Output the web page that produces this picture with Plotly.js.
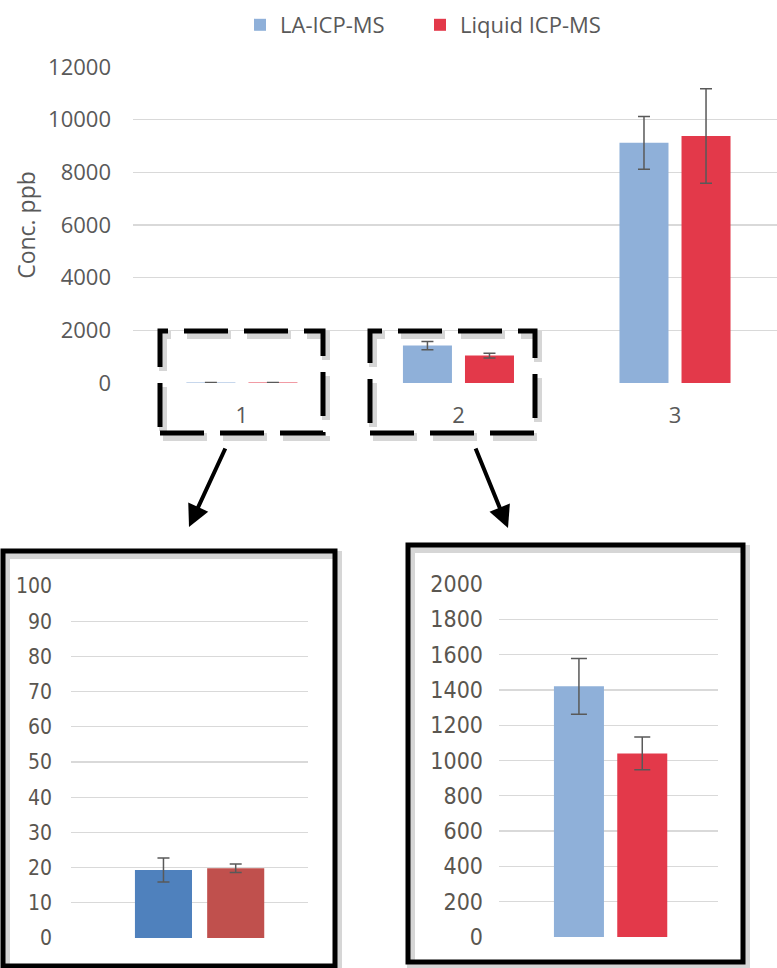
<!DOCTYPE html>
<html>
<head>
<meta charset="utf-8">
<script src="https://cdn.plot.ly/plotly-3.0.1.min.js"></script>
<style>
html,body{margin:0;padding:0;background:#fff;}
#chart{width:777px;height:968px;}
</style>
</head>
<body>
<div id="chart"></div>
<script>
// ---- data ----
const categories = ["1", "2", "3"];
const seriesNames = ["LA-ICP-MS", "Liquid ICP-MS"];
const laValues = [19.3, 1420, 9120];
const laErrors = [3.4, 158, 1000];
const liquidValues = [19.8, 1040, 9380];
const liquidErrors = [1.2, 93, 1790];
const mainTicks = [0, 2000, 4000, 6000, 8000, 10000, 12000];
const inset1Ticks = [0, 10, 20, 30, 40, 50, 60, 70, 80, 90, 100];
const inset2Ticks = [0, 200, 400, 600, 800, 1000, 1200, 1400, 1600, 1800, 2000];
const yTitle = "Conc. ppb";

// ---- styling ----
const W = 777, H = 968;
const px = x => x / W;
const py = y => 1 - y / H;
const BLUE = "#8FB0D9", RED = "#E3394A";
const BLUE_DARK = "#4F81BD", RED_DARK = "#C0504D";
const TXT = "#595959";
const GRID = "#D9D9D9";
const mainFont = "Open Sans, DejaVu Sans, sans-serif";
const narrowFont = "Liberation Sans Narrow, DejaVu Sans Condensed, Arial Narrow, sans-serif";

function eb(arr, w) {
  return {type: "data", array: arr, visible: true, color: TXT, thickness: 1.5, width: w};
}

const traces = [
  {type: "bar", name: seriesNames[0], x: categories, y: laValues, marker: {color: BLUE},
   error_y: eb(laErrors, 6), xaxis: "x", yaxis: "y", legend: "legend"},
  {type: "bar", name: seriesNames[1], x: categories, y: liquidValues, marker: {color: RED},
   error_y: eb(liquidErrors, 6), xaxis: "x", yaxis: "y", legend: "legend2"},
  // inset for category 1
  {type: "bar", name: seriesNames[0], x: [categories[0]], y: [laValues[0]], marker: {color: BLUE_DARK},
   error_y: eb([laErrors[0]], 6), xaxis: "x2", yaxis: "y2", showlegend: false},
  {type: "bar", name: seriesNames[1], x: [categories[0]], y: [liquidValues[0]], marker: {color: RED_DARK},
   error_y: eb([liquidErrors[0]], 6), xaxis: "x2", yaxis: "y2", showlegend: false},
  // inset for category 2
  {type: "bar", name: seriesNames[0], x: [categories[1]], y: [laValues[1]], marker: {color: BLUE},
   error_y: eb([laErrors[1]], 8), xaxis: "x3", yaxis: "y3", showlegend: false},
  {type: "bar", name: seriesNames[1], x: [categories[1]], y: [liquidValues[1]], marker: {color: RED},
   error_y: eb([liquidErrors[1]], 8), xaxis: "x3", yaxis: "y3", showlegend: false}
];

const shapes = [];
function rect(x0, y0, x1, y1, width, dash) {
  // shadow
  shapes.push({type: "rect", xref: "paper", yref: "paper",
    x0: px(x0 + 3), x1: px(x1 + 3), y0: py(y1 + 4), y1: py(y0 + 4),
    line: {color: "rgba(0,0,0,0.16)", width: width + 3, dash: dash || "solid"}, layer: "above"});
  shapes.push({type: "rect", xref: "paper", yref: "paper",
    x0: px(x0), x1: px(x1), y0: py(y1), y1: py(y0),
    line: {color: "#000", width: width, dash: dash || "solid"}, layer: "above"});
}
rect(160, 331, 323, 433, 5, "44px,16px");
rect(370, 331, 535, 433, 5, "44px,16px");
rect(3, 551, 335, 966, 5);
rect(408, 545, 743, 962, 5);

const annotations = [
  {xref: "paper", yref: "paper", x: px(189), y: py(527), ax: 37, ay: -80,
   showarrow: true, arrowhead: 2, arrowsize: 1.1, arrowwidth: 4, arrowcolor: "#000", text: ""},
  {xref: "paper", yref: "paper", x: px(508), y: py(528), ax: -33, ay: -81,
   showarrow: true, arrowhead: 2, arrowsize: 1.1, arrowwidth: 4, arrowcolor: "#000", text: ""}
];

const legendBase = {orientation: "h", y: py(4), xanchor: "left", yanchor: "top", itemwidth: 30,
  font: {family: mainFont, size: 22, color: TXT}, itemclick: false, bgcolor: "rgba(0,0,0,0)"};

const layout = {
  width: W, height: H,
  margin: {l: 0, r: 0, t: 0, b: 0},
  paper_bgcolor: "#fff", plot_bgcolor: "rgba(0,0,0,0)",
  barmode: "group", bargap: 0.427, bargroupgap: 0.21,
  showlegend: true,
  legend: Object.assign({}, legendBase, {x: px(240)}),
  legend2: Object.assign({}, legendBase, {x: px(420)}),
  xaxis: {domain: [px(133), 1], range: [-0.503, 2.471], type: "category",
    showgrid: false, zeroline: false, showline: false, ticks: "",
    tickfont: {family: mainFont, size: 22, color: TXT}, ticklabelstandoff: 17, fixedrange: true},
  yaxis: {domain: [py(383), py(67)], range: [0, 12000], tickvals: mainTicks, tickformat: "d",
    showgrid: true, gridcolor: GRID, gridwidth: 1.3, zeroline: false, showline: false, ticks: "",
    tickfont: {family: mainFont, size: 22, color: TXT}, ticklabelstandoff: 21,
    title: {text: yTitle, font: {family: mainFont, size: 23, color: TXT}, standoff: 6}, fixedrange: true},
  xaxis2: {domain: [px(71), px(308)], range: [-0.51, 0.43], type: "category", anchor: "y2",
    showgrid: false, zeroline: false, showline: false, ticks: "", showticklabels: false},
  yaxis2: {domain: [py(938), py(586)], range: [0, 100], tickvals: inset1Ticks, anchor: "x2",
    showgrid: true, gridcolor: GRID, gridwidth: 1.3, zeroline: false, showline: false, ticks: "",
    tickfont: {family: narrowFont, size: 21, color: "#5a5650"}, ticklabelstandoff: 18},
  xaxis3: {domain: [px(499), px(718)], range: [-0.505, 0.486], type: "category", anchor: "y3",
    showgrid: false, zeroline: false, showline: false, ticks: "", showticklabels: false},
  yaxis3: {domain: [py(937), py(584)], range: [0, 2000], tickvals: inset2Ticks, anchor: "x3",
    showgrid: true, gridcolor: GRID, gridwidth: 1.3, zeroline: false, showline: false, ticks: "",
    tickfont: {family: narrowFont, size: 23, color: "#5a5650"}, ticklabelstandoff: 15},
  shapes: shapes,
  annotations: annotations
};

Plotly.newPlot("chart", traces, layout, {displayModeBar: false, staticPlot: true});
</script>
</body>
</html>
